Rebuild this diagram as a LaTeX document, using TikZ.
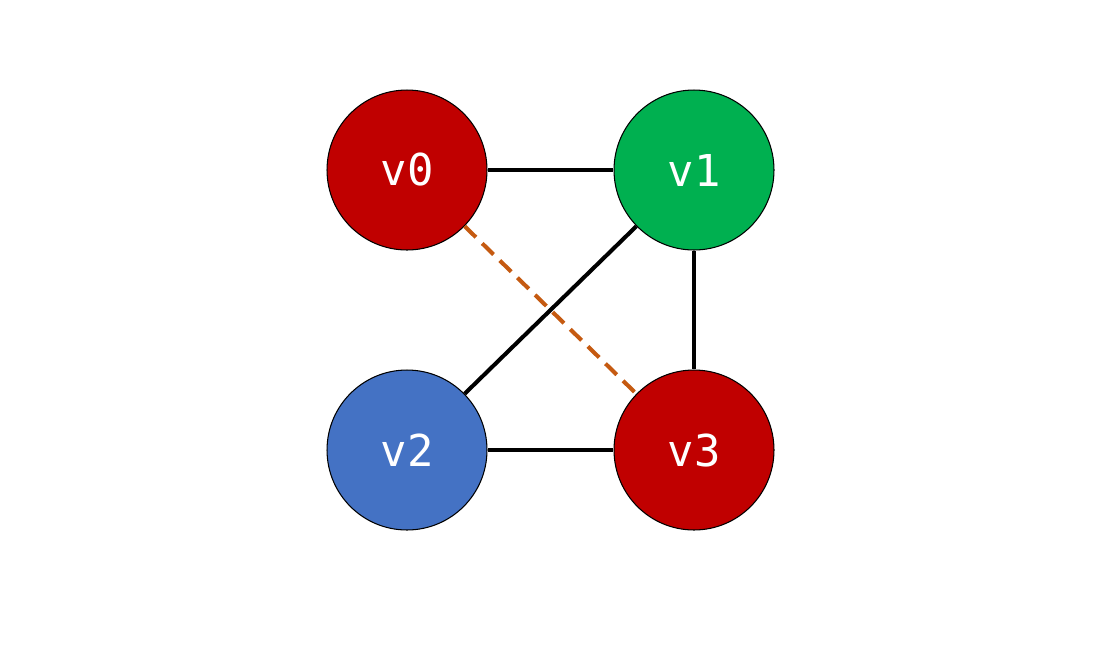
\documentclass[tikz,border=0pt]{standalone}
\usepackage{fontspec}
\newfontfamily\vfont{DejaVu Sans Mono}
\definecolor{vred}{HTML}{C00000}
\definecolor{vgreen}{HTML}{00B050}
\definecolor{vblue}{HTML}{4472C4}
\definecolor{vorange}{HTML}{C55A11}
\begin{document}
\begin{tikzpicture}
    [x=0.02cm,y=-0.02cm,
     vertex/.style={circle,draw=black,line width=0.6pt,minimum size=3.2cm,inner sep=0pt,
       text=white,font=\vfont\fontsize{25}{30}\selectfont},
     edge/.style={line width=2.3pt,draw=black}]
    \useasboundingbox (0,0) rectangle (1105,650);
    \node[vertex,fill=vred]   (V0) at (407,170) {v0};
    \node[vertex,fill=vgreen] (V1) at (694,170) {v1};
    \node[vertex,fill=vblue]  (V2) at (407,450) {v2};
    \node[vertex,fill=vred]   (V3) at (694,450) {v3};
    \draw[edge] (V0) -- (V1);
    \draw[edge] (V1) -- (V3);
    \draw[edge] (V1) -- (V2);
    \draw[edge] (V2) -- (V3);
    \draw[line width=2.3pt,draw=vorange,dash pattern=on 9pt off 5pt] (V0) -- (V3);
\end{tikzpicture}
\end{document}
